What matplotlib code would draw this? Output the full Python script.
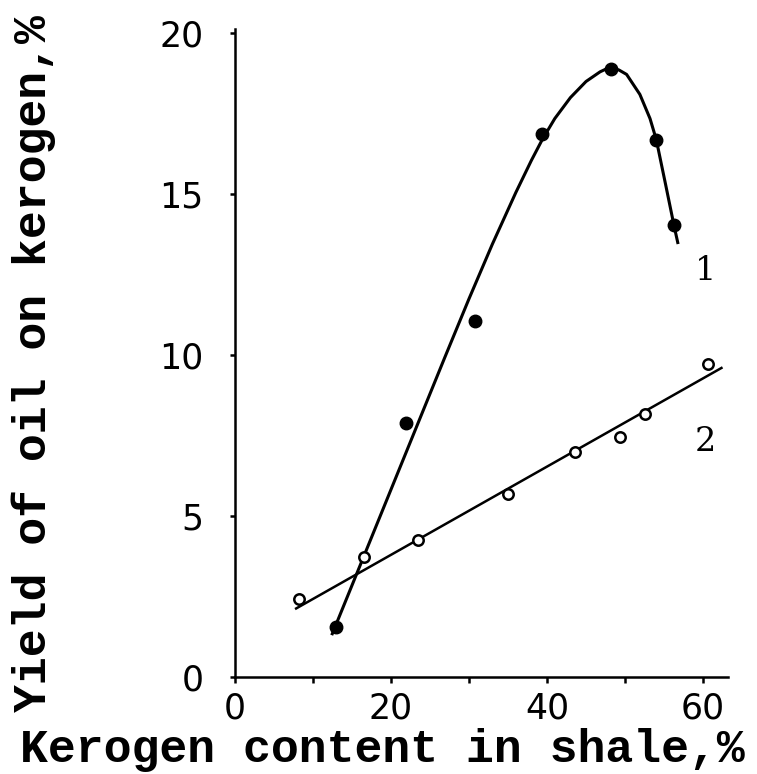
import numpy as np
import matplotlib.pyplot as plt

# Data
# curve 1: filled points
s1_x = [12.9, 21.9, 30.8, 39.4, 48.2, 54.0, 56.3]
s1_y = [1.56, 7.90, 11.06, 16.88, 18.9, 16.68, 14.03]
# hand-drawn curve through series 1
c1_x = [12.4, 16.5, 21.0, 26.9, 30.0, 33.0, 36.0, 38.0, 39.4, 41.0, 43.0, 45.0,
        46.8, 47.5, 48.2, 49.2, 50.2, 51.9, 53.2, 54.0, 55.2, 56.3, 56.8]
c1_y = [1.3, 3.74, 6.42, 9.93, 11.75, 13.45, 15.05, 16.05, 16.7, 17.35, 18.0, 18.5,
        18.8, 18.88, 18.92, 18.86, 18.72, 18.1, 17.35, 16.7, 15.3, 14.0, 13.45]

# curve 2: open points and straight fit line
s2_x = [8.2, 16.5, 23.5, 35.0, 43.6, 49.3, 52.6, 60.6]
s2_y = [2.42, 3.72, 4.27, 5.70, 6.99, 7.47, 8.16, 9.72]
l2_x = [7.7, 62.5]
l2_y = [2.11, 9.62]

xticks = [0, 10, 20, 30, 40, 50, 60]
xticklabels = ['0', '', '20', '', '40', '', '60']
yticks = [0, 5, 10, 15, 20]

fig = plt.figure(figsize=(7.57, 7.74), dpi=100)
ax = fig.add_axes([0.3104, 0.1253, 0.6513, 0.8368])

ax.plot(c1_x, c1_y, color='black', lw=2.2, solid_capstyle='butt')
ax.plot(l2_x, l2_y, color='black', lw=1.8, solid_capstyle='butt')
ax.plot(s1_x, s1_y, 'o', color='black', ms=9)
ax.plot(s2_x, s2_y, 'o', mfc='white', mec='black', mew=1.8, ms=7.5)

ax.text(60.3, 12.6, '1', fontsize=24, family='DejaVu Serif', ha='center', va='center')
ax.text(60.3, 7.3, '2', fontsize=24, family='DejaVu Serif', ha='center', va='center')

ax.set_xlim(0, 63.2)
ax.set_ylim(0, 20.12)
for side in ['top', 'right']:
    ax.spines[side].set_visible(False)
for side in ['left', 'bottom']:
    ax.spines[side].set_linewidth(1.8)

ax.set_xticks(xticks)
ax.set_xticklabels(xticklabels)
ax.set_yticks(yticks)
ax.tick_params(axis='x', direction='out', length=4.5, width=1.8, pad=6, labelsize=25)
ax.tick_params(axis='y', direction='out', length=3.6, width=1.8, pad=19, labelsize=25)

fig.text(0.045, 0.53, 'Yield of oil on kerogen,%', rotation=90, fontsize=33.5,
         family='Liberation Mono', fontweight='bold', ha='center', va='center')
fig.text(0.505, 0.031, 'Kerogen content in shale,%', fontsize=33.5,
         family='Liberation Mono', fontweight='bold', ha='center', va='center')

fig.savefig('out.png', dpi=100)
